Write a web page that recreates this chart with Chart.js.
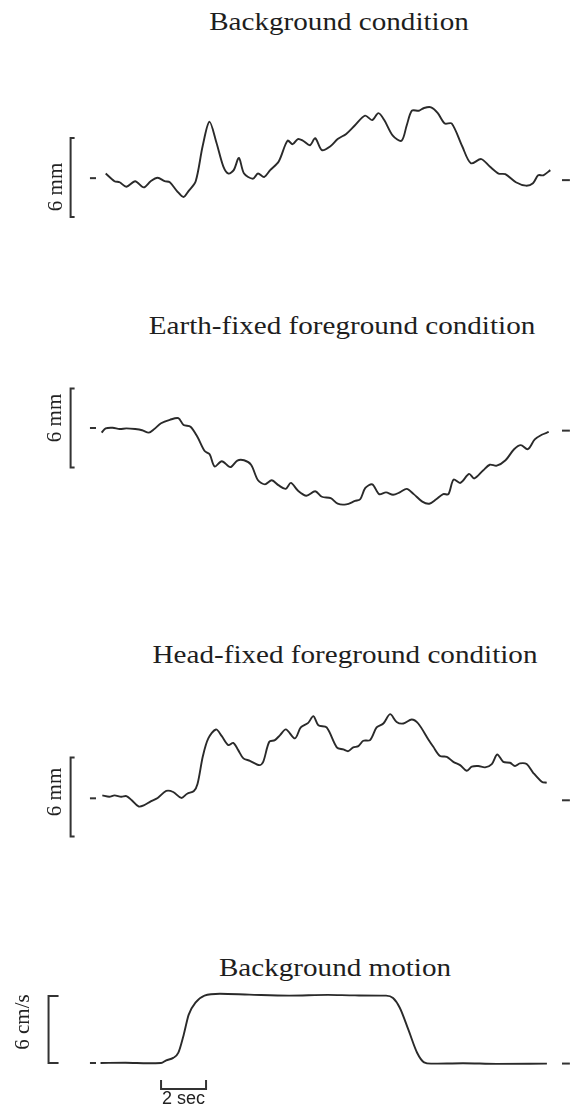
<!DOCTYPE html>
<html>
<head>
<meta charset="utf-8">
<script src="https://cdn.jsdelivr.net/npm/chart.js@4.4.0/dist/chart.umd.min.js"></script>
<style>
  html, body { margin: 0; padding: 0; background: #fff; }
  body { width: 580px; height: 1108px; position: relative; overflow: hidden; }
  canvas { position: absolute; left: 0; }
  .title {
    position: absolute;
    font-family: "Liberation Serif", "Times New Roman", serif;
    font-size: 26px;
    line-height: 26px;
    color: #1e1e1e;
    white-space: nowrap;
    transform: translateX(-50%) scaleX(1.12);
  }
</style>
</head>
<body>
<div class="title" style="left:339px; top:9px">Background condition</div>
<div class="title" style="left:342px; top:313px">Earth-fixed foreground condition</div>
<div class="title" style="left:345px; top:642px">Head-fixed foreground condition</div>
<div class="title" style="left:335px; top:955px">Background motion</div>

<canvas id="bgChart"></canvas>
<canvas id="earthChart"></canvas>
<canvas id="headChart"></canvas>
<canvas id="motionChart"></canvas>

<script>
// time in seconds, displacement in mm, velocity in cm/s
const bgTime = [0.12, 0.51, 0.74, 1.04, 1.43, 1.81, 2.12, 2.43, 2.74, 2.97, 3.28, 3.58, 3.81, 4.12, 4.43, 4.73, 5.04, 5.35, 5.58, 5.81, 6.04, 6.27, 6.66, 6.89, 7.16, 7.43, 7.81, 8.20, 8.43, 8.66, 8.89, 9.20, 9.43, 9.73, 10.12, 10.43, 10.81, 11.20, 11.65, 11.96, 12.24, 12.50, 12.88, 13.27, 13.50, 13.73, 14.04, 14.27, 14.58, 14.88, 15.19, 15.50, 15.96, 16.35, 16.81, 17.19, 17.58, 17.88, 18.35, 18.80, 19.11, 19.34, 19.57, 19.88];
const bgDisp = [0.30, -0.28, -0.36, -0.70, -0.28, -0.75, -0.28, -0.02, -0.28, -0.36, -1.01, -1.48, -1.01, -0.28, 2.39, 4.23, 2.66, 0.83, 0.30, 0.56, 1.48, 0.30, -0.09, 0.30, 0.04, 0.56, 1.22, 2.79, 2.53, 2.92, 2.79, 2.45, 2.98, 2.08, 2.39, 2.92, 3.31, 3.97, 4.70, 4.36, 4.89, 4.36, 3.18, 2.79, 3.97, 5.07, 5.07, 5.28, 5.33, 4.89, 4.10, 4.10, 2.39, 1.08, 1.40, 0.83, 0.30, 0.25, -0.36, -0.62, -0.43, 0.17, 0.17, 0.56];

const earthTime = [-0.06, 0.12, 0.43, 0.74, 1.04, 1.43, 1.74, 2.04, 2.28, 2.58, 2.97, 3.35, 3.58, 3.89, 4.20, 4.51, 4.74, 4.96, 5.28, 5.66, 5.97, 6.27, 6.58, 6.89, 7.20, 7.50, 7.81, 8.12, 8.35, 8.66, 9.04, 9.43, 9.73, 10.12, 10.43, 10.81, 11.20, 11.43, 11.66, 11.97, 12.27, 12.58, 12.89, 13.19, 13.50, 13.81, 14.19, 14.50, 14.81, 15.12, 15.35, 15.58, 15.88, 16.27, 16.50, 16.89, 17.19, 17.50, 17.89, 18.27, 18.57, 18.88, 19.19, 19.50, 19.81];
const earthDisp = [-0.35, -0.03, 0.02, -0.08, -0.03, -0.08, -0.17, -0.35, -0.08, 0.36, 0.62, 0.75, 0.23, 0.10, -0.69, -1.73, -2.00, -2.92, -2.52, -2.97, -2.47, -2.45, -2.79, -3.97, -4.28, -3.97, -4.36, -4.62, -4.17, -4.75, -5.14, -4.80, -5.22, -5.33, -5.75, -5.80, -5.54, -5.41, -4.55, -4.28, -5.02, -4.89, -5.07, -4.89, -4.62, -5.02, -5.59, -5.75, -5.41, -5.02, -5.02, -3.92, -4.17, -3.49, -3.83, -3.23, -2.79, -2.86, -2.45, -1.61, -1.30, -1.61, -0.87, -0.51, -0.30];

const headTime = [-0.03, 0.28, 0.51, 0.81, 1.04, 1.28, 1.58, 1.81, 2.12, 2.43, 2.81, 3.12, 3.48, 3.74, 4.04, 4.20, 4.44, 4.68, 5.02, 5.28, 5.57, 5.79, 6.01, 6.24, 6.53, 6.95, 7.12, 7.39, 7.64, 7.87, 8.13, 8.53, 8.79, 9.12, 9.35, 9.57, 9.94, 10.39, 10.68, 10.90, 11.12, 11.35, 11.57, 11.87, 12.16, 12.46, 12.76, 13.05, 13.35, 13.72, 14.01, 14.46, 14.68, 14.98, 15.28, 15.57, 15.87, 16.16, 16.39, 16.68, 16.98, 17.28, 17.52, 17.79, 18.09, 18.31, 18.53, 18.83, 19.12, 19.50, 19.72];
const headDisp = [0.12, 0.02, 0.12, 0.02, 0.07, -0.25, -0.72, -0.64, -0.33, -0.07, 0.46, 0.38, -0.07, 0.25, 0.46, 0.98, 3.11, 4.45, 5.13, 4.62, 3.94, 4.11, 3.56, 2.93, 2.75, 2.42, 2.67, 4.19, 4.32, 4.70, 5.13, 4.45, 5.28, 5.63, 6.14, 5.45, 5.28, 3.77, 3.61, 3.48, 3.77, 3.86, 4.27, 4.32, 5.28, 5.58, 6.29, 5.70, 5.58, 5.89, 5.58, 4.37, 3.81, 3.11, 3.05, 2.67, 2.42, 1.99, 2.30, 2.35, 2.25, 2.50, 3.23, 2.67, 2.60, 2.35, 2.55, 2.50, 1.84, 1.16, 1.08];

const motionTime = [-0.11, 1.0, 2.0, 2.58, 2.81, 3.12, 3.35, 3.58, 3.81, 4.12, 4.51, 5.20, 6.5, 8.27, 10.0, 11.2, 12.58, 12.89, 13.19, 13.58, 13.96, 14.27, 14.58, 16.0, 17.5, 19.73];
const motionVel = [0, 0.02, -0.02, 0, 0.24, 0.46, 0.92, 2.47, 4.33, 5.42, 6.03, 6.2, 6.12, 6.03, 6.1, 6.05, 6.03, 5.82, 4.95, 2.94, 0.92, 0.06, -0.06, -0.02, -0.08, -0.06];

// short baseline marks left and right of each trace
const dashLeftTime = [-0.58, -0.31];
const dashRightTime = [20.4, 20.75];
const dashLeftLevel = [-0.05, 0, -0.1, 0];
const dashRightLevel = [-0.2, -0.2, -0.25, -0.05];

const PAGE_W = 580;
const T0_PX = 103;       // x pixel of t = 0
const PX_PER_SEC = 22.5;

// draws the calibration brackets, their labels and the time bar
const scaleBars = {
  id: 'scaleBars',
  afterDraw(chart, args, opts) {
    const { ctx, scales: { x, y } } = chart;
    ctx.save();
    ctx.strokeStyle = '#333';
    ctx.fillStyle = '#222';
    ctx.lineWidth = 2;

    const bx = x.getPixelForValue(opts.bracketT);
    const top = y.getPixelForValue(opts.range[1]);
    const bot = y.getPixelForValue(opts.range[0]);
    ctx.beginPath();
    ctx.moveTo(bx + opts.tick, top);
    ctx.lineTo(bx, top);
    ctx.lineTo(bx, bot);
    ctx.lineTo(bx + opts.tick, bot);
    ctx.stroke();

    ctx.save();
    ctx.translate(x.getPixelForValue(opts.labelT), y.getPixelForValue(opts.labelV));
    ctx.rotate(-Math.PI / 2);
    ctx.font = '21px "Liberation Serif", serif';
    ctx.textAlign = 'center';
    ctx.textBaseline = 'middle';
    ctx.fillText(opts.label, 0, 0);
    ctx.restore();

    if (opts.timeBar) {
      const tb = opts.timeBar;
      const x1 = x.getPixelForValue(tb.from);
      const x2 = x.getPixelForValue(tb.from + tb.len);
      const yy = y.getPixelForValue(tb.level);
      ctx.beginPath();
      ctx.moveTo(x1, yy - 9);
      ctx.lineTo(x1, yy);
      ctx.lineTo(x2, yy);
      ctx.lineTo(x2, yy - 9);
      ctx.stroke();
      ctx.font = '18px "Liberation Sans", Arial, sans-serif';
      ctx.textAlign = 'center';
      ctx.textBaseline = 'middle';
      ctx.fillText(tb.len + ' sec', (x1 + x2) / 2, y.getPixelForValue(tb.labelV));
    }
    ctx.restore();
  }
};

const panels = [
  { id: 'bgChart', top: 60, height: 185, zero: 177.5, ppu: 13.17, time: bgTime, vals: bgDisp,
    bars: { bracketT: -1.44, tick: 4, range: [-3, 3], label: '6 mm', labelT: -2.07, labelV: -0.72 } },
  { id: 'earthChart', top: 360, height: 170, zero: 428, ppu: 13.17, time: earthTime, vals: earthDisp,
    bars: { bracketT: -1.44, tick: 4, range: [-3, 3], label: '6 mm', labelT: -2.09, labelV: 0.76 } },
  { id: 'headChart', top: 690, height: 170, zero: 797, ppu: 13.17, time: headTime, vals: headDisp,
    bars: { bracketT: -1.44, tick: 4, range: [-3, 3], label: '6 mm', labelT: -2.13, labelV: 0.38 } },
  { id: 'motionChart', top: 985, height: 123, zero: 1063, ppu: 11.17, time: motionTime, vals: motionVel, mono: true,
    bars: { bracketT: -2.42, tick: 10, range: [0, 6], label: '6 cm/s', labelT: -3.53, labelV: 3.67,
            timeBar: { from: 2.58, len: 2, level: -2.33, labelV: -3.22 } } }
];

function makePanel(p, i) {
  const canvas = document.getElementById(p.id);
  canvas.width = PAGE_W;
  canvas.height = p.height;
  canvas.style.top = p.top + 'px';

  const yMax = (p.zero - p.top) / p.ppu;
  const yMin = -(p.top + p.height - p.zero) / p.ppu;

  new Chart(canvas.getContext('2d'), {
    type: 'line',
    data: {
      datasets: [
        {
          data: p.time.map((t, k) => ({ x: t, y: p.vals[k] })),
          borderColor: '#2a2a2a',
          borderWidth: 1.9,
          pointRadius: 0,
          tension: 0.3,
          cubicInterpolationMode: p.mono ? 'monotone' : 'default'
        },
        {
          data: dashLeftTime.map(t => ({ x: t, y: dashLeftLevel[i] })),
          borderColor: '#333',
          borderWidth: 2,
          pointRadius: 0
        },
        {
          data: dashRightTime.map(t => ({ x: t, y: dashRightLevel[i] })),
          borderColor: '#333',
          borderWidth: 2,
          pointRadius: 0
        }
      ]
    },
    options: {
      responsive: false,
      animation: false,
      events: [],
      layout: { padding: 0 },
      scales: {
        x: { type: 'linear', display: false, min: -T0_PX / PX_PER_SEC, max: (PAGE_W - T0_PX) / PX_PER_SEC },
        y: { type: 'linear', display: false, min: yMin, max: yMax }
      },
      plugins: {
        legend: { display: false },
        tooltip: { enabled: false },
        scaleBars: p.bars
      }
    },
    plugins: [scaleBars]
  });
}

panels.forEach(makePanel);
</script>
</body>
</html>
